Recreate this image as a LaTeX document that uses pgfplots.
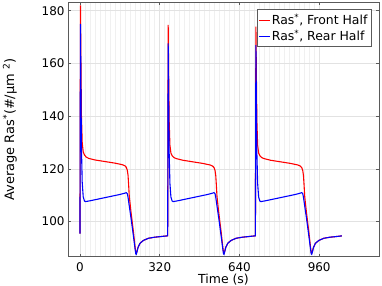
\documentclass[border=0pt]{standalone}
\usepackage{pgfplots}
\pgfplotsset{compat=1.18}
\usepackage{fontspec}
\setmainfont{DejaVu Sans}
\definecolor{axgray}{RGB}{90,90,90}
\definecolor{majgrid}{RGB}{226,226,226}
\definecolor{mingrid}{RGB}{240,240,240}
\begin{document}
\begin{tikzpicture}
\begin{axis}[
  scale only axis,
  width=311bp, height=254.4bp,
  xmin=-48, xmax=1200, ymin=86.7, ymax=183.2,
  xtick={0,320,640,960}, ytick={100,120,140,160,180},
  minor x tick num=15,
  grid=both,
  major grid style={majgrid, line width=0.6pt},
  minor grid style={mingrid, line width=0.5pt},
  minor tick length=0pt,
  major tick length=3bp,
  tick align=inside,
  tick style={axgray, line width=0.6pt},
  axis line style={axgray, line width=0.8pt},
  font=\fontsize{12}{14}\selectfont,
  /pgf/number format/assume math mode=true,
  xticklabel style={yshift=-2.5bp},
  xlabel={Time (s)},
  xlabel style={at={(axis description cs:0.5,-0.105)}, anchor=base, font=\fontsize{12.5}{15}\selectfont},
  ylabel={Average Ras\textsuperscript{*}(\#/µm \textsuperscript{2})},
  ylabel style={at={(axis description cs:-0.187,0.5)}, anchor=center, font=\fontsize{13}{15}\selectfont},
  legend style={at={(rel axis cs:0.977,0.972)}, anchor=north east, draw=axgray, line width=0.8pt, fill=white, font=\fontsize{12.5}{15}\selectfont, inner sep=2pt, row sep=0pt},
  legend cell align=left,
  legend image post style={xscale=0.6, line width=0.8pt},
]
\addplot[red, line width=1.1pt] coordinates {
(0,95.5) (2,182) (4,160) (6,140) (9,130) (13,126.5) (18,125.3) (25,124.5) (35,124.0) (60,123.4) (100,122.8) (140,122.2) (170,121.6) (180,121.2) (186,120.6) (190,119.5) (193,117.5) (195,114.5) (198,109.5) (205,103.5) (215,95.8) (221,90.5) (224,88.3) (226,88.0) (229,88.8) (233,90.2) (241,91.8) (255,92.9) (275,93.7) (300,94.1) (330,94.4) (351,94.6)
(352,94.6) (354,174.6) (356,155) (358,138) (361,129) (365,126) (370,125) (377,124.3) (387,123.9) (412,123.3) (452,122.7) (492,122.1) (522,121.5) (532,121.1) (538,120.5) (542,119.4) (545,117.4) (547,114.4) (550,109.4) (557,103.4) (567,95.7) (573,90.5) (576,88.3) (578,88.0) (581,88.8) (585,90.2) (593,91.8) (607,92.9) (627,93.7) (652,94.1) (682,94.4) (703,94.6)
(704,94.6) (706,174) (708,155) (710,138) (713,129) (717,126) (722,125) (729,124.3) (739,123.9) (764,123.3) (804,122.7) (844,122.1) (874,121.5) (884,121.1) (890,120.5) (894,119.4) (897,117.4) (899,114.4) (902,109.4) (909,103.4) (919,95.7) (925,90.5) (928,88.3) (930,88.0) (933,88.8) (937,90.2) (945,91.8) (959,92.9) (979,93.7) (1004,94.1) (1034,94.4) (1051,94.6)
};
\addlegendentry{Ras\textsuperscript{*}, Front Half}
\addplot[blue, line width=1.1pt] coordinates {
(0,95.5) (2,175) (4,150) (6,128) (9,115) (13,109.5) (18,107.8) (22,107.6) (40,107.9) (80,108.7) (120,109.5) (160,110.3) (180,110.8) (186,111.0) (190,110.6) (193,109.2) (197,106.5) (205,101.3) (215,94.2) (221,89.8) (224,87.8) (226,87.6) (229,88.6) (233,90.2) (241,91.8) (255,92.9) (275,93.7) (300,94.1) (330,94.4) (351,94.6)
(352,94.6) (354,167.6) (356,145) (358,126) (361,114.5) (365,109.3) (370,107.8) (374,107.6) (392,107.9) (432,108.7) (472,109.5) (512,110.3) (532,110.8) (538,111.0) (542,110.6) (545,109.2) (549,106.5) (557,101.3) (567,94.2) (573,89.8) (576,87.8) (578,87.6) (581,88.6) (585,90.2) (593,91.8) (607,92.9) (627,93.7) (652,94.1) (682,94.4) (703,94.6)
(704,94.6) (706,167) (708,145) (710,126) (713,114.5) (717,109.3) (722,107.8) (726,107.6) (744,107.9) (784,108.7) (824,109.5) (864,110.3) (884,110.8) (890,111.0) (894,110.6) (897,109.2) (901,106.5) (909,101.3) (919,94.2) (925,89.8) (928,87.8) (930,87.6) (933,88.6) (937,90.2) (945,91.8) (959,92.9) (979,93.7) (1004,94.1) (1034,94.4) (1051,94.6)
};
\addlegendentry{Ras\textsuperscript{*}, Rear Half}
\end{axis}
\pgfresetboundingbox
\path[use as bounding box] (-68bp,-29.3bp) rectangle (314bp,256.7bp);
\end{tikzpicture}
\end{document}
